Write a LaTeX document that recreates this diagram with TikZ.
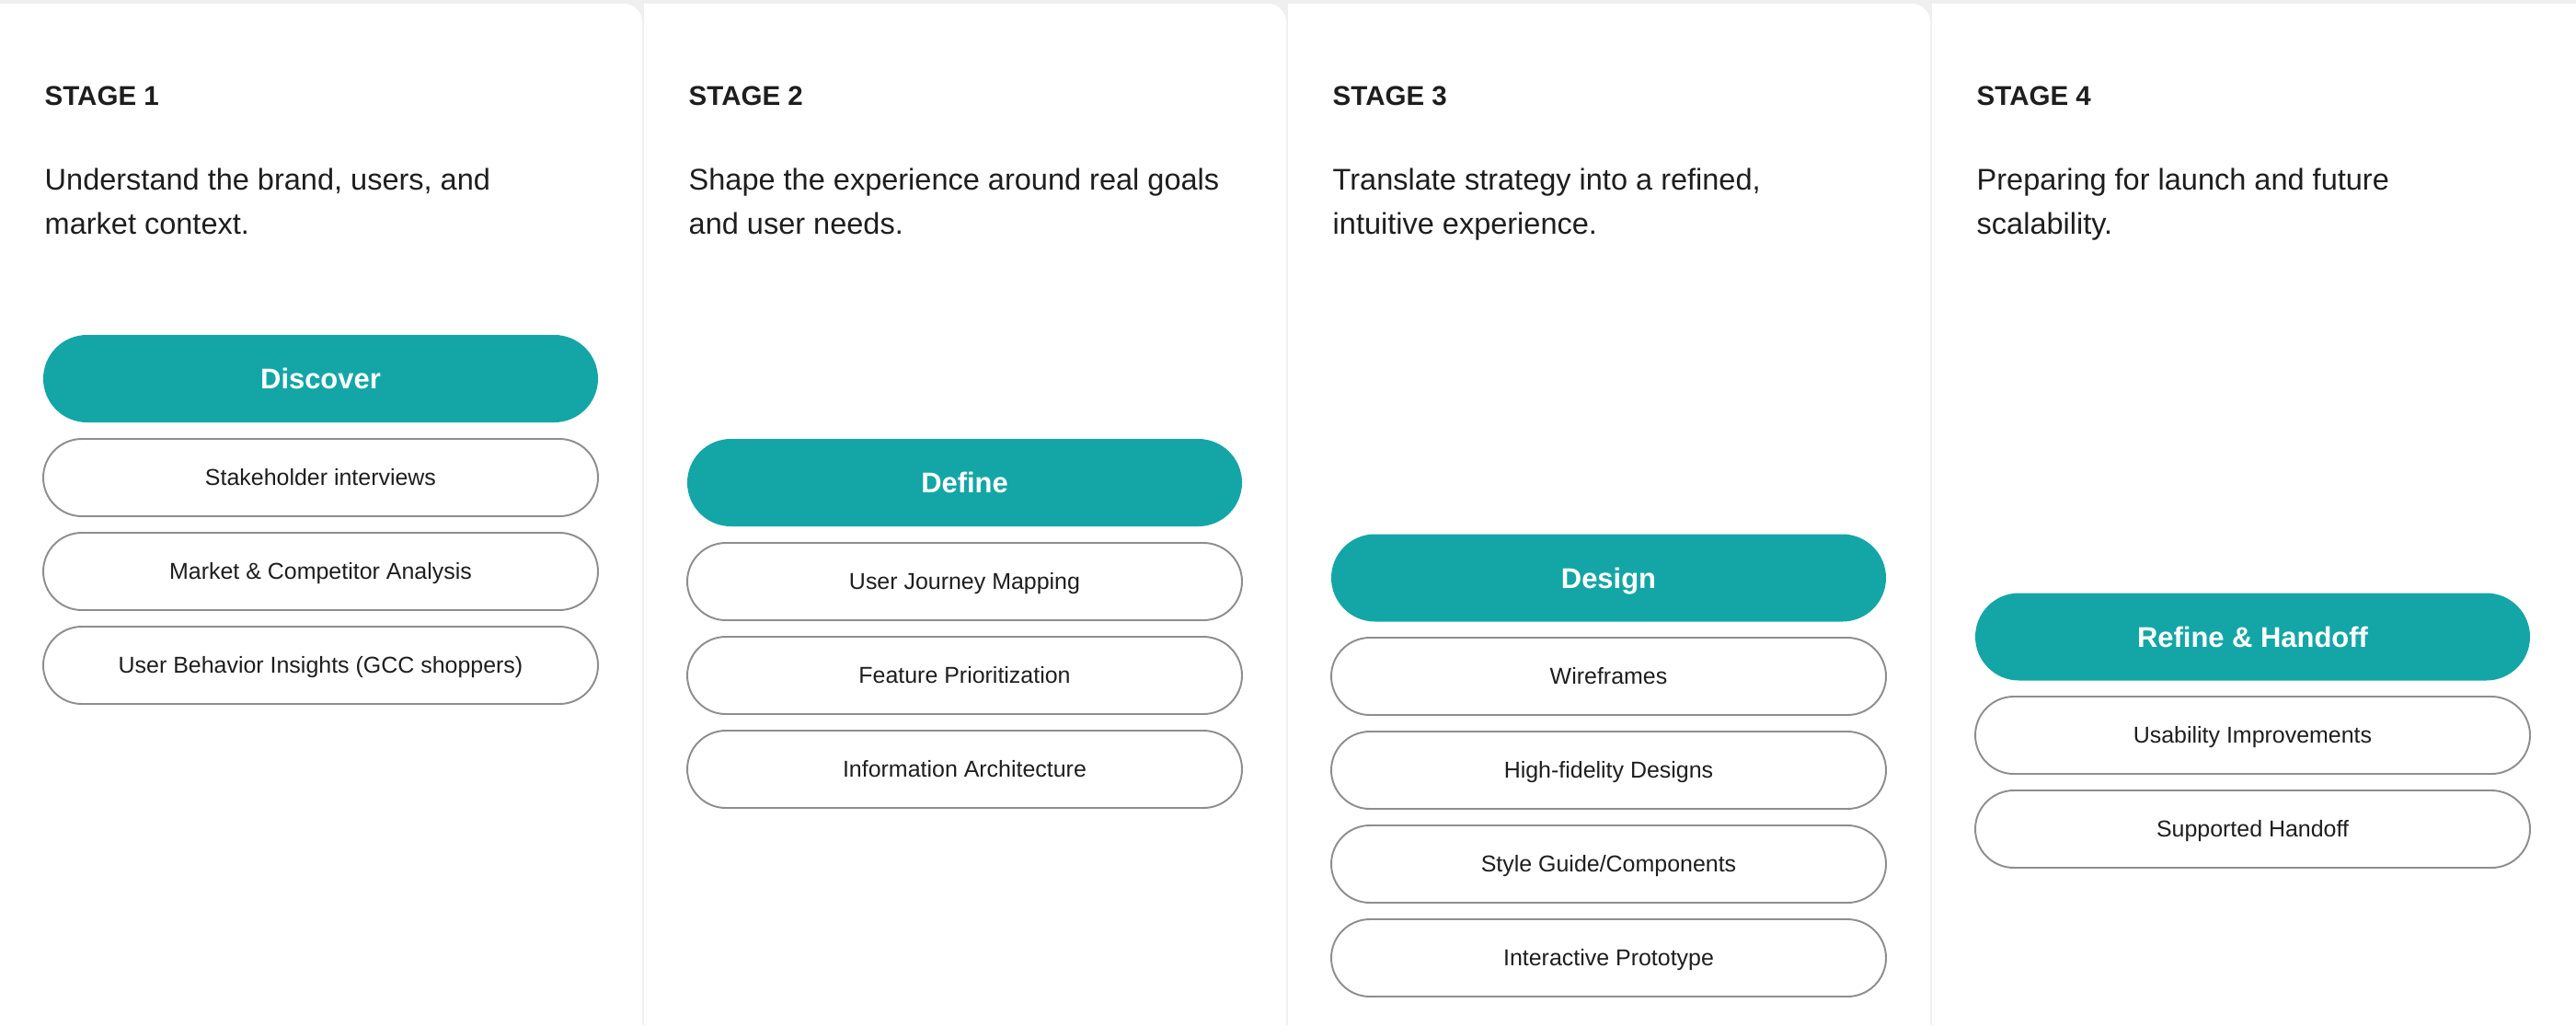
\documentclass[tikz,border=0pt]{standalone}
\usepackage{fontspec}
\setmainfont{Liberation Sans}
\usetikzlibrary{shapes.misc}

\definecolor{pagegray}{HTML}{EFEFEF}
\definecolor{teal}{HTML}{14A6A6}
\definecolor{ink}{HTML}{1E1E1E}
\definecolor{pillline}{HTML}{8E8E8E}

\begin{document}
\begin{tikzpicture}[
	stage/.style={anchor=base west, inner sep=0pt, text=ink, font=\fontsize{8.4pt}{10pt}\selectfont\bfseries},
	goal/.style={anchor=base west, inner sep=0pt, text=ink, align=left, font=\fontsize{9.25pt}{13.4pt}\selectfont},
	phase/.style={rounded rectangle, fill=teal, text=white, minimum width=6.03cm, minimum height=0.95cm,
		text height=6.3pt, text depth=0pt, inner sep=0pt, font=\fontsize{8.8pt}{10pt}\selectfont\bfseries},
	task/.style={rounded rectangle, draw=pillline, line width=0.55pt, fill=white, text=ink, minimum width=6.03cm,
		minimum height=0.84cm, text height=5.1pt, text depth=0pt, inner sep=0pt, font=\fontsize{7.1pt}{9pt}\selectfont}
	]
	%\draw[help lines] (0,0) grid (28,-11.14);
	\useasboundingbox (0,0) rectangle (28,-11.14);
	\clip (0,0) rectangle (28,-11.14);
	\fill[pagegray] (0,0) rectangle (28,-11.14);
	\fill[white] (-0.3,-0.04) -- (6.78,-0.04) arc[start angle=90, end angle=0, radius=0.2] -- (6.98,-11.3) -- (-0.3,-11.3) -- cycle;
	\fill[white] (7.00,-0.04) -- (13.78,-0.04) arc[start angle=90, end angle=0, radius=0.2] -- (13.98,-11.3) -- (7.00,-11.3) -- cycle;
	\fill[white] (14.00,-0.04) -- (20.78,-0.04) arc[start angle=90, end angle=0, radius=0.2] -- (20.98,-11.3) -- (14.00,-11.3) -- cycle;
	\fill[white] (21.00,-0.04) -- (28.3,-0.04) -- (28.3,-11.3) -- (21.00,-11.3) -- cycle;

	% stage 1
	\draw (0.48,-1.14) node (stageone) [stage] {STAGE 1};
	\draw (0.48,-2.54) node (goalone) [goal] {Understand the brand, users, and\\market context.};
	\draw (3.485,-4.115) node (discover) [phase] {Discover};
	\draw (3.485,-5.19) node (interviews) [task] {Stakeholder interviews};
	\draw (3.485,-6.21) node (market) [task] {Market \& Competitor Analysis};
	\draw (3.485,-7.23) node (behavior) [task] {User Behavior Insights (GCC shoppers)};

	% stage 2
	\draw (7.48,-1.14) node (stagetwo) [stage] {STAGE 2};
	\draw (7.48,-2.54) node (goaltwo) [goal] {Shape the experience around real goals\\and user needs.};
	\draw (10.485,-5.245) node (define) [phase] {Define};
	\draw (10.485,-6.32) node (journey) [task] {User Journey Mapping};
	\draw (10.485,-7.34) node (priority) [task] {Feature Prioritization};
	\draw (10.485,-8.36) node (architecture) [task] {Information Architecture};

	% stage 3
	\draw (14.48,-1.14) node (stagethree) [stage] {STAGE 3};
	\draw (14.48,-2.54) node (goalthree) [goal] {Translate strategy into a refined,\\intuitive experience.};
	\draw (17.485,-6.28) node (design) [phase] {Design};
	\draw (17.485,-7.35) node (wireframes) [task] {Wireframes};
	\draw (17.485,-8.37) node (hifi) [task] {High-fidelity Designs};
	\draw (17.485,-9.39) node (styleguide) [task] {Style Guide/Components};
	\draw (17.485,-10.41) node (prototype) [task] {Interactive Prototype};

	% stage 4
	\draw (21.48,-1.14) node (stagefour) [stage] {STAGE 4};
	\draw (21.48,-2.54) node (goalfour) [goal] {Preparing for launch and future\\scalability.};
	\draw (24.485,-6.92) node (refine) [phase] {Refine \& Handoff};
	\draw (24.485,-7.99) node (usability) [task] {Usability Improvements};
	\draw (24.485,-9.01) node (handoff) [task] {Supported Handoff};
\end{tikzpicture}
\end{document}
